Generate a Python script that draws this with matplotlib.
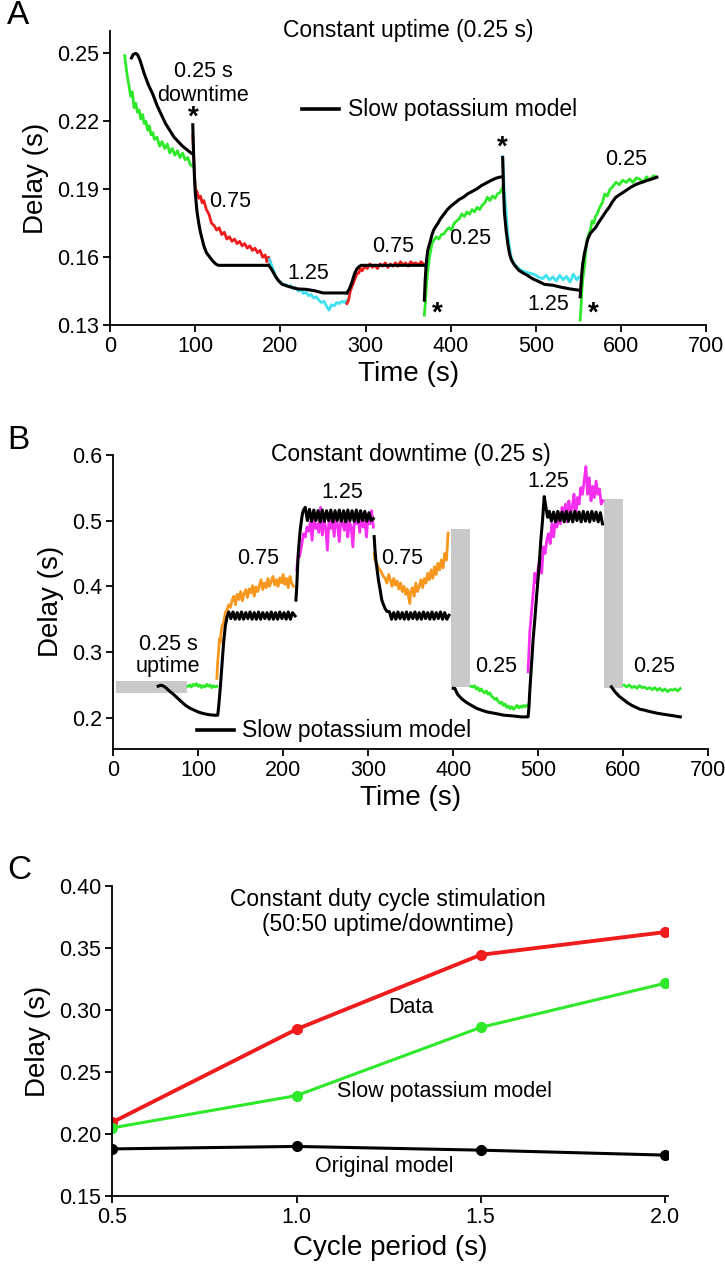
#!/usr/bin/env python3
"""Delay traces under constant uptime / downtime / duty cycle stimulation.

Three stacked panels: (A) constant uptime, (B) constant downtime, both with
recorded delay segments coloured by downtime/uptime and the slow potassium
model in black, and (C) mean delay against cycle period.
"""

import matplotlib
matplotlib.use("Agg")
import matplotlib.pyplot as plt

# ---------------------------------------------------------------- panel A data
# recorded segments (time s, delay s), colour = downtime
a_green1_t = [17, 18, 20, 22, 24, 26, 28, 30, 32, 34, 36, 38, 40, 42, 44, 46, 48, 50, 52,
              55, 58, 61, 64, 67, 70, 73, 76, 79, 82, 85, 88, 91, 94, 97]
a_green1_y = [.249, .246, .240, .236, .231, .233, .226, .228, .224, .225, .221, .223, .219,
              .220, .216, .218, .214, .215, .212, .213, .209, .211, .208, .210, .206, .208,
              .205, .207, .204, .206, .203, .204, .201, .200]
a_red1_t = [97, 98, 99, 100, 102, 104, 106, 108, 110, 113, 116, 119, 122, 125, 128, 131,
            134, 137, 140, 143, 146, 149, 152, 155, 158, 161, 164, 167, 170, 173, 176, 179,
            182, 184, 186, 188]
a_red1_y = [.2136, .205, .197, .190, .189, .186, .187, .184, .185, .181, .179, .175, .174,
            .172, .173, .170, .171, .168, .169, .167, .168, .166, .167, .165, .166, .164,
            .165, .163, .164, .162, .163, .160, .161, .158, .160, .158]
a_cyan1_t = [187, 189, 191, 193, 195, 197, 200, 203, 206, 209, 212, 215, 218, 221, 224, 227,
             230, 233, 236, 239, 242, 245, 248, 251, 254, 257, 260, 263, 266, 269, 272, 275,
             278]
a_cyan1_y = [.159, .157, .155, .153, .151, .150, .149, .148, .148, .147, .1475, .146, .1465,
             .145, .1455, .144, .1445, .143, .1435, .142, .1425, .141, .140, .1405, .1385,
             .1366, .139, .1385, .140, .1395, .1405, .140, .141]
a_red2_t = [278, 280, 282, 284, 286, 288, 290, 292, 294, 296, 299, 302, 305, 308, 311, 314,
            317, 320, 323, 326, 329, 332, 335, 338, 341, 344, 347, 350, 353, 356, 359, 362,
            365, 368]
a_red2_y = [.1395, .141, .145, .147, .149, .151, .1527, .153, .155, .154, .156, .155, .157,
            .1555, .1565, .155, .157, .156, .1575, .1555, .157, .156, .1575, .156, .158,
            .1565, .1575, .156, .158, .157, .1575, .1565, .158, .157]
a_green2_t = [369, 370, 371, 372, 373, 374, 375, 376, 378, 380, 383, 386, 389, 392, 395, 398,
              401, 404, 407, 410, 413, 416, 419, 422, 425, 428, 431, 434, 437, 440, 443, 446,
              449, 452, 455, 458, 461]
a_green2_y = [.1344, .139, .145, .150, .154, .157, .160, .162, .166, .1674, .169, .168, .170,
              .1703, .172, .173, .172, .175, .176, .177, .1791, .178, .180, .179, .181, .180,
              .182, .181, .183, .184, .1865, .185, .187, .186, .188, .1885, .1909]
a_cyan2_t = [461, 462, 463, 465, 467, 469, 471, 474, 477, 480, 484, 488, 492, 496, 500, 504,
             508, 512, 516, 520, 524, 528, 532, 536, 540, 544, 548, 551]
a_cyan2_y = [.2044, .195, .188, .180, .170, .1645, .160, .1572, .156, .155, .154, .1535,
             .153, .1527, .152, .151, .1505, .152, .150, .1513, .1495, .152, .150, .1515,
             .149, .1525, .150, .1513]
a_green3_t = [552, 553, 554, 555, 556, 557, 558, 560, 562, 564, 566, 568, 570, 572, 575, 578,
              581, 584, 587, 590, 594, 598, 602, 606, 610, 614, 618, 622, 626, 630, 634, 638,
              642]
a_green3_y = [.1322, .138, .145, .150, .153, .1557, .160, .1674, .170, .172, .176, .175, .178,
              .1791, .182, .184, .1879, .187, .190, .191, .1931, .192, .194, .193, .1945,
              .193, .195, .1945, .193, .1955, .194, .196, .1953]

# slow potassium model segments
a_model1_t = [25, 27, 30, 32, 35, 40, 45, 50, 55, 60, 65, 70, 75, 80, 85, 90, 95, 97]
a_model1_y = [.248, .2495, .250, .2495, .247, .241, .236, .232, .227, .223, .219, .216,
              .213, .211, .209, .2075, .206, .2055]
a_model2_t = [97, 98, 99, 100, 102, 104, 106, 108, 110, 113, 116, 120, 124, 127, 130, 186]
a_model2_y = [.2185, .205, .195, .188, .180, .175, .171, .168, .165, .162, .1605, .1585,
              .157, .1564, .1564, .1564]
a_model3_t = [186, 189, 192, 195, 198, 202, 206, 210, 220, 230, 240, 250, 278]
a_model3_y = [.1564, .155, .153, .151, .1495, .148, .1475, .147, .146, .1458, .1452, .1442,
              .1442]
a_model4_t = [278, 281, 284, 287, 290, 293, 295, 368]
a_model4_y = [.1442, .146, .149, .1527, .155, .156, .1564, .1564]
a_model5_t = [369, 370, 371, 372, 373, 374, 376, 378, 380, 382, 385, 388, 392, 396, 400, 405,
              410, 415, 420, 425, 430, 436, 442, 448, 454, 461]
a_model5_y = [.141, .150, .156, .160, .163, .1645, .167, .170, .172, .1733, .175, .177, .179,
              .181, .1825, .184, .1855, .1865, .188, .189, .190, .1916, .1928, .194, .195,
              .1956]
a_model6_t = [461, 462, 463, 465, 467, 469, 471, 474, 477, 480, 485, 490, 496, 502, 510, 520,
              530, 540, 551]
a_model6_y = [.204, .190, .180, .172, .166, .1616, .159, .157, .1555, .1542, .153, .152,
              .1505, .1495, .148, .1476, .1467, .146, .1454]
a_model7_t = [552, 553, 554, 555, 557, 559, 561, 564, 567, 570, 574, 578, 582, 586, 590, 594,
              600, 606, 612, 618, 624, 630, 636, 642]
a_model7_y = [.1425, .148, .153, .157, .1616, .165, .168, .1705, .1718, .173, .1755, .1777,
              .180, .182, .1845, .1865, .188, .1895, .191, .1922, .193, .1938, .1945, .1953]

# ---------------------------------------------------------------- panel B data
# grey blocks: (start, end, low, high)
b_grey_t0 = [3, 397, 577]
b_grey_t1 = [87, 420, 600]
b_grey_lo = [0.238, 0.247, 0.245]
b_grey_hi = [0.256, 0.487, 0.5325]

b_green1_t = [88, 90, 92, 94, 96, 98, 100, 102, 104, 106, 108, 110, 112, 114, 116, 118, 120,
              122]
b_green1_y = [.248, .250, .247, .251, .249, .252, .248, .250, .246, .249, .247, .251, .248,
              .250, .246, .249, .247, .248]
b_orange1_t = [122, 123, 124, 125, 126, 127, 128, 130, 132, 134, 136, 138, 140, 142, 144, 146,
               148, 150, 152, 154, 156, 158, 160, 162, 164, 166, 168, 170, 172, 174, 176, 178,
               180, 182, 184, 186, 188, 190, 192, 194, 196, 198, 200, 202, 204, 206, 208, 210,
               212]
b_orange1_y = [.260, .285, .300, .320, .315, .330, .339, .345, .360, .364, .372, .368, .379,
               .385, .372, .388, .380, .392, .378, .389, .395, .383, .396, .390, .401, .385,
               .399, .392, .400, .410, .395, .405, .398, .412, .400, .408, .415, .402, .410,
               .400, .413, .405, .418, .403, .412, .398, .415, .405, .400]
b_mag1_t = [216, 217, 218, 219, 220, 222, 224, 226, 228, 230, 232, 234, 236, 238, 240, 242,
            244, 246, 248, 250, 252, 254, 256, 258, 260, 262, 264, 266, 268, 270, 272, 274,
            276, 278, 280, 282, 284, 286, 288, 290, 292, 294, 296, 298, 300, 302, 304, 306]
b_mag1_y = [.425, .440, .450, .445, .450, .465, .480, .475, .490, .484, .498, .470, .505,
            .488, .495, .482, .520, .478, .500, .490, .455, .505, .488, .500, .476, .510,
            .492, .468, .505, .495, .485, .512, .475, .498, .490, .460, .505, .495, .508,
            .482, .512, .490, .500, .475, .510, .495, .515, .490]
b_orange2_t = [307, 308, 310, 312, 314, 316, 318, 320, 322, 324, 326, 328, 330, 332, 334, 336,
               338, 340, 342, 344, 346, 348, 349, 350, 352, 354, 356, 358, 360, 362, 364, 366,
               368, 370, 372, 374, 376, 378, 380, 382, 384, 386, 388, 390, 392, 394]
b_orange2_y = [.450, .440, .435, .428, .425, .420, .415, .412, .405, .418, .410, .400, .412,
               .402, .408, .396, .405, .392, .400, .388, .396, .380, .374, .392, .398, .385,
               .405, .392, .400, .410, .398, .412, .405, .420, .410, .425, .412, .430, .418,
               .435, .425, .440, .428, .450, .440, .481]
b_green2_t = [421, 423, 425, 427, 429, 431, 433, 435, 437, 439, 441, 443, 445, 447, 449, 451,
              453, 455, 457, 459, 461, 463, 465, 467, 469, 471, 473, 475, 477, 479, 481, 483,
              485, 487]
b_green2_y = [.248, .247, .249, .244, .246, .241, .244, .240, .238, .241, .236, .238, .233,
              .231, .228, .230, .225, .222, .224, .219, .221, .216, .218, .214, .217, .213,
              .216, .219, .215, .218, .216, .219, .217, .2193]
b_mag2_t = [488, 489, 490, 492, 494, 496, 498, 500, 502, 504, 506, 508, 510, 512, 514, 516,
            518, 520, 522, 524, 526, 528, 530, 532, 534, 536, 538, 540, 542, 544, 546, 548,
            550, 552, 554, 556, 558, 560, 562, 564, 566, 568, 570, 572, 574, 576]
b_mag2_y = [.270, .300, .330, .360, .390, .420, .405, .430, .445, .420, .460, .450, .470,
            .480, .465, .495, .475, .500, .490, .512, .495, .520, .505, .525, .498, .530,
            .510, .520, .540, .505, .535, .525, .550, .540, .560, .582, .540, .565, .530,
            .552, .535, .560, .540, .548, .525, .530]
b_green3_t = [601, 604, 607, 610, 613, 616, 619, 622, 625, 628, 631, 634, 637, 640, 643, 646,
              649, 652, 655, 658, 661, 664, 667]
b_green3_y = [.2497, .247, .250, .246, .248, .245, .249, .246, .247, .244, .246, .243, .246,
              .242, .245, .241, .244, .240, .243, .2421, .244, .241, .2447]

# slow potassium model, with ripple on the plateaus
b_model1_t = [53, 56, 59, 62, 66, 70, 75, 80, 85, 90, 95, 100, 105, 110, 115, 120, 123, 124,
              126, 128, 130, 132, 134, 136, 138.5, 141, 143.5, 146, 148.5, 151, 153.5, 156,
              158.5, 161, 163.5, 166, 168.5, 171, 173.5, 176, 178.5, 181, 183.5, 186, 188.5,
              191, 193.5, 196, 198.5, 201, 203.5, 206, 208.5, 211, 214]
b_model1_y = [.2482, .2497, .2485, .246, .241, .237, .231, .225, .2193, .215, .212, .209,
              .207, .2055, .2045, .204, .204, .215, .245, .280, .315, .340, .3538, .361, .351,
              .361, .350, .360, .350, .361, .350, .360, .351, .361, .350, .360, .350, .361,
              .350, .360, .351, .360, .350, .361, .350, .360, .350, .361, .351, .360, .350,
              .361, .350, .360, .355]
b_model2_t = [215, 216, 217, 218, 219, 220, 221, 222, 223, 224, 226, 228.5, 231, 233.5, 236,
              238.5, 241, 243.5, 246, 248.5, 251, 253.5, 256, 258.5, 261, 263.5, 266, 268.5,
              271, 273.5, 276, 278.5, 281, 283.5, 286, 288.5, 291, 293.5, 296, 298.5, 301,
              303.5, 306]
b_model2_y = [.379, .400, .430, .455, .470, .485, .495, .505, .512, .516, .520, .500, .517,
              .499, .516, .500, .515, .498, .516, .499, .515, .500, .516, .498, .515, .500,
              .516, .499, .515, .498, .516, .500, .515, .499, .516, .498, .515, .500, .514,
              .499, .512, .500, .503]
b_model3_t = [307, 308, 309, 310, 311, 312, 314, 316, 318, 320, 322, 325, 327.5, 330, 332.5,
              335, 337.5, 340, 342.5, 345, 347.5, 350, 352.5, 355, 357.5, 360, 362.5, 365,
              367.5, 370, 372.5, 375, 377.5, 380, 382.5, 385, 387.5, 390, 392.5, 395]
b_model3_y = [.4756, .455, .440, .430, .420, .410, .395, .3792, .372, .366, .362, .3614,
              .350, .360, .350, .361, .351, .360, .350, .361, .350, .360, .351, .361, .350,
              .360, .350, .361, .351, .360, .350, .361, .350, .360, .351, .361, .350, .360,
              .350, .356]
b_model4_t = [400, 402, 405, 410, 415, 420, 428, 435, 440, 450, 460, 470, 480, 488, 489, 490,
              492, 494, 496, 498, 499, 501, 503, 505, 507, 509, 511, 513, 515.5, 518, 520.5,
              523, 525.5, 528, 530.5, 533, 535.5, 538, 540.5, 543, 545.5, 548, 550.5, 553,
              555.5, 558, 560.5, 563, 565.5, 568, 570.5, 573, 575.5]
b_model4_y = [.245, .2447, .236, .229, .224, .220, .2142, .211, .209, .2066, .204, .203,
              .2015, .2015, .215, .240, .280, .320, .350, .385, .3995, .430, .470, .500,
              .5365, .520, .505, .514, .499, .513, .498, .514, .500, .513, .498, .514, .499,
              .513, .498, .514, .500, .513, .498, .514, .499, .513, .498, .514, .500, .513,
              .498, .512, .495]
b_model5_t = [586, 590, 595, 600, 605, 610, 615, 620, 625, 630, 640, 650, 660, 667]
b_model5_y = [.2472, .240, .233, .228, .223, .219, .216, .213, .2117, .210, .207, .205, .203,
              .2015]

# ---------------------------------------------------------------- panel C data
c_period = [0.5, 1.0, 1.5, 2.0]
c_data = [0.2095, 0.2845, 0.3445, 0.3628]
c_slow_k = [0.2050, 0.2310, 0.2860, 0.3215]
c_original = [0.1880, 0.1900, 0.1870, 0.1830]

# colours
GREEN = "#2ee82a"
RED = "#ee1c1c"
CYAN = "#3fe0f0"
ORANGE = "#f7971e"
MAGENTA = "#f52ef0"
GREY = "#c9c9c9"

FONT = "Liberation Sans"
TICK_FS = 15.5
NOTE_FS = 15.5
LABEL_FS = 20


def style_axes(ax):
    """Left/bottom spines only, outward ticks, as in the figure."""
    for side in ("top", "right"):
        ax.spines[side].set_visible(False)
    for side in ("left", "bottom"):
        ax.spines[side].set_linewidth(1.3)
    ax.tick_params(direction="out", length=5, width=1.3, labelsize=TICK_FS, pad=3)


def draw_panel_a(ax):
    lw = 2.0
    ax.plot(a_green1_t, a_green1_y, color=GREEN, lw=lw)
    ax.plot(a_red1_t, a_red1_y, color=RED, lw=lw)
    ax.plot(a_cyan1_t, a_cyan1_y, color=CYAN, lw=lw)
    ax.plot(a_red2_t, a_red2_y, color=RED, lw=lw)
    ax.plot(a_green2_t, a_green2_y, color=GREEN, lw=lw)
    ax.plot(a_cyan2_t, a_cyan2_y, color=CYAN, lw=lw)
    ax.plot(a_green3_t, a_green3_y, color=GREEN, lw=lw)
    for t, y in [(a_model1_t, a_model1_y), (a_model2_t, a_model2_y),
                 (a_model3_t, a_model3_y), (a_model4_t, a_model4_y),
                 (a_model5_t, a_model5_y), (a_model6_t, a_model6_y),
                 (a_model7_t, a_model7_y)]:
        ax.plot(t, y, color="black", lw=2.2)

    # legend: short line + label
    ax.plot([225, 269], [0.2254, 0.2254], color="black", lw=2.6)
    ax.text(279, 0.2254, "Slow potassium model", fontsize=NOTE_FS + 1, va="center")

    ax.text(0.5, 1.0, "Constant uptime (0.25 s)", transform=ax.transAxes,
            ha="center", va="center", fontsize=NOTE_FS + 1)
    ax.text(109, 0.2418, "0.25 s", ha="center", va="center", fontsize=NOTE_FS)
    ax.text(109, 0.2315, "downtime", ha="center", va="center", fontsize=NOTE_FS)
    for t, y, s in [(141, 0.1844, "0.75"), (233, 0.153, "1.25"), (332, 0.1648, "0.75"),
                    (423, 0.1682, "0.25"), (515, 0.139, "1.25"), (606, 0.2033, "0.25")]:
        ax.text(t, y, s, ha="center", va="center", fontsize=NOTE_FS)
    for t, y in [(97, 0.2215), (384, 0.1350), (461, 0.2082), (567, 0.1350)]:
        ax.text(t, y, "*", ha="center", va="center", fontsize=20, fontweight="bold")

    ax.set_xlim(0, 700)
    ax.set_ylim(0.13, 0.26)
    ax.set_xticks(range(0, 701, 100))
    ax.set_yticks([0.13, 0.16, 0.19, 0.22, 0.25])
    ax.set_yticklabels(["0.13", "0.16", "0.19", "0.22", "0.25"])
    ax.set_xlabel("Time (s)", fontsize=LABEL_FS, labelpad=3)
    ax.set_ylabel("Delay (s)", fontsize=LABEL_FS, labelpad=6)


def draw_panel_b(ax):
    lw = 2.0
    heights = [hi - lo for lo, hi in zip(b_grey_lo, b_grey_hi)]
    widths = [t1 - t0 for t0, t1 in zip(b_grey_t0, b_grey_t1)]
    ax.bar(b_grey_t0, heights, width=widths, bottom=b_grey_lo, align="edge",
           color=GREY, edgecolor="none", zorder=1)

    ax.plot(b_green1_t, b_green1_y, color=GREEN, lw=lw)
    ax.plot(b_orange1_t, b_orange1_y, color=ORANGE, lw=lw)
    ax.plot(b_mag1_t, b_mag1_y, color=MAGENTA, lw=lw)
    ax.plot(b_orange2_t, b_orange2_y, color=ORANGE, lw=lw)
    ax.plot(b_green2_t, b_green2_y, color=GREEN, lw=lw)
    ax.plot(b_mag2_t, b_mag2_y, color=MAGENTA, lw=lw)
    ax.plot(b_green3_t, b_green3_y, color=GREEN, lw=lw)
    for t, y in [(b_model1_t, b_model1_y), (b_model2_t, b_model2_y),
                 (b_model3_t, b_model3_y), (b_model4_t, b_model4_y),
                 (b_model5_t, b_model5_y)]:
        ax.plot(t, y, color="black", lw=2.2)

    ax.plot([99, 142], [0.181, 0.181], color="black", lw=2.6)
    ax.text(152, 0.181, "Slow potassium model", fontsize=NOTE_FS + 1, va="center")

    ax.text(0.5, 1.0, "Constant downtime (0.25 s)", transform=ax.transAxes,
            ha="center", va="center", fontsize=NOTE_FS + 1)
    ax.text(65, 0.312, "0.25 s", ha="center", va="center", fontsize=NOTE_FS)
    ax.text(65, 0.2777, "uptime", ha="center", va="center", fontsize=NOTE_FS)
    for t, y, s in [(170, 0.4416, "0.75"), (270, 0.5426, "1.25"), (340, 0.4416, "0.75"),
                    (450, 0.2777, "0.25"), (512, 0.5594, "1.25"), (636, 0.2777, "0.25")]:
        ax.text(t, y, s, ha="center", va="center", fontsize=NOTE_FS)

    ax.set_xlim(0, 700)
    ax.set_ylim(0.153, 0.6)
    ax.set_xticks(range(0, 701, 100))
    ax.set_yticks([0.2, 0.3, 0.4, 0.5, 0.6])
    ax.set_yticklabels(["0.2", "0.3", "0.4", "0.5", "0.6"])
    ax.set_xlabel("Time (s)", fontsize=LABEL_FS, labelpad=3)
    ax.set_ylabel("Delay (s)", fontsize=LABEL_FS, labelpad=6)


def draw_panel_c(ax):
    ax.plot(c_period, c_data, color=RED, lw=2.8, marker="o", ms=7)
    ax.plot(c_period, c_slow_k, color=GREEN, lw=2.2, marker="o", ms=7)
    ax.plot(c_period, c_original, color="black", lw=2.2, marker="o", ms=7)

    ax.text(1.247, 0.3895, "Constant duty cycle stimulation", ha="center", va="center",
            fontsize=NOTE_FS + 1)
    ax.text(1.247, 0.369, "(50:50 uptime/downtime)", ha="center", va="center",
            fontsize=NOTE_FS + 1)
    ax.text(1.31, 0.3017, "Data", ha="center", va="center", fontsize=NOTE_FS)
    ax.text(1.403, 0.2346, "Slow potassium model", ha="center", va="center",
            fontsize=NOTE_FS)
    ax.text(1.237, 0.1742, "Original model", ha="center", va="center", fontsize=NOTE_FS)

    ax.set_xlim(0.5, 2.01)
    ax.set_ylim(0.15, 0.40)
    ax.set_xticks([0.5, 1.0, 1.5, 2.0])
    ax.set_xticklabels(["0.5", "1.0", "1.5", "2.0"])
    ax.set_yticks([0.15, 0.20, 0.25, 0.30, 0.35, 0.40])
    ax.set_yticklabels(["0.15", "0.20", "0.25", "0.30", "0.35", "0.40"])
    ax.set_xlabel("Cycle period (s)", fontsize=LABEL_FS, labelpad=5)
    ax.set_ylabel("Delay (s)", fontsize=LABEL_FS, labelpad=6)


def main():
    plt.rcParams.update({
        "font.family": [FONT, "DejaVu Sans"],
        "font.size": NOTE_FS,
    })

    fig = plt.figure(figsize=(7.25, 12.8), dpi=100)
    ax_a = fig.add_axes([0.152, 0.746, 0.822, 0.230])
    ax_b = fig.add_axes([0.156, 0.415, 0.821, 0.2297])
    ax_c = fig.add_axes([0.155, 0.0656, 0.767, 0.2422])

    for ax in (ax_a, ax_b, ax_c):
        style_axes(ax)

    draw_panel_a(ax_a)
    draw_panel_b(ax_b)
    draw_panel_c(ax_c)

    # panel letters
    for y, letter in [(0.988, "A"), (0.656, "B"), (0.320, "C")]:
        fig.text(0.010, y, letter, fontsize=24, va="center", ha="left")

    fig.savefig("out.png", dpi=100)
    plt.close(fig)


if __name__ == "__main__":
    main()
